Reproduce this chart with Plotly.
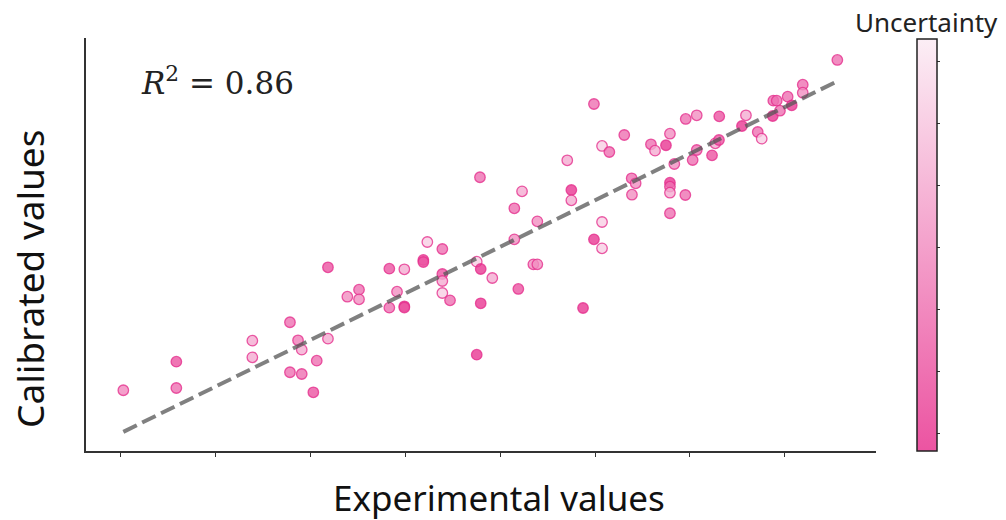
import plotly.graph_objects as go

experimental = [0.035, 0.593, 0.593, 1.393, 1.393, 1.789, 1.874, 1.913, 1.789, 1.913,
                2.035, 2.071, 2.189, 2.189, 2.393, 2.516, 2.516, 2.835, 2.835, 2.916,
                2.993, 2.993, 2.993, 3.193, 3.193, 3.235, 3.393, 3.393, 3.393, 3.393,
                3.474, 3.755, 3.797, 3.797, 3.755, 3.919, 3.789, 4.151, 4.232, 4.151,
                4.393, 4.351, 4.393, 4.193, 4.708, 4.751, 4.751, 4.874, 4.989, 4.989,
                5.074, 5.074, 5.074, 5.151, 5.308, 5.386, 5.428, 5.389, 5.589, 5.632,
                5.747, 5.789, 5.789, 5.789, 5.789, 5.789, 5.835, 5.951, 5.955, 6.028,
                6.071, 6.071, 6.232, 6.266, 6.305, 6.308, 6.547, 6.589, 6.713, 6.755,
                6.871, 6.877, 6.913, 6.947, 7.028, 7.071, 7.187, 7.187, 7.551]
calibrated = [0.926, 1.539, 0.975, 1.989, 1.633, 2.384, 1.998, 1.796, 1.312, 1.275,
              0.883, 1.560, 3.563, 2.032, 2.932, 3.083, 2.877, 3.533, 2.697, 3.040,
              3.520, 2.727, 2.701, 3.719, 3.676, 4.105, 3.955, 3.419, 3.269, 3.012,
              2.855, 3.683, 3.526, 2.791, 1.689, 3.333, 5.493, 4.828, 5.192, 4.163,
              4.549, 3.627, 3.627, 3.098, 5.857, 5.220, 4.999, 2.690, 7.064, 4.163,
              6.164, 4.534, 3.970, 6.035, 6.399, 5.471, 5.364, 5.119, 6.200, 6.063,
              6.179, 6.427, 5.377, 5.291, 5.162, 4.721, 5.778, 5.113, 6.743, 5.863,
              6.822, 6.078, 5.964, 6.221, 6.292, 6.800, 6.592, 6.822, 6.464, 6.320,
              6.807, 7.135, 7.135, 6.920, 7.221, 7.036, 7.478, 7.306, 8.008]
uncertainty = [0.20, 0.11, 0.16, 0.26, 0.26, 0.16, 0.18, 0.26, 0.16, 0.16,
               0.11, 0.16, 0.11, 0.26, 0.21, 0.16, 0.21, 0.11, 0.16, 0.21,
               0.26, 0.06, 0.11, 0.11, 0.11, 0.32, 0.16, 0.11, 0.26, 0.32,
               0.16, 0.32, 0.06, 0.06, 0.06, 0.26, 0.16, 0.16, 0.26, 0.21,
               0.21, 0.21, 0.21, 0.11, 0.26, 0.06, 0.26, 0.06, 0.16, 0.06,
               0.32, 0.32, 0.32, 0.16, 0.16, 0.16, 0.21, 0.21, 0.16, 0.26,
               0.06, 0.21, 0.06, 0.16, 0.26, 0.16, 0.21, 0.16, 0.16, 0.16,
               0.21, 0.16, 0.11, 0.26, 0.11, 0.11, 0.06, 0.26, 0.16, 0.32,
               0.06, 0.16, 0.16, 0.16, 0.16, 0.06, 0.16, 0.21, 0.16]
r2_text = "<i>R</i><sup>2</sup> = 0.86"
colorbar_ticks = [0.05, 0.10, 0.15, 0.20, 0.25, 0.30, 0.35]
x_ticks = [0, 1, 2, 3, 4, 5, 6, 7]

cmin, cmax = 0.0355, 0.3684
pink_scale = [[0.0, "rgba(231,41,138,0.80)"], [1.0, "rgba(251,234,243,0.80)"]]

fig = go.Figure()
fig.add_trace(go.Scatter(
    x=experimental, y=calibrated, mode="markers",
    marker=dict(size=10.5, color=uncertainty, colorscale=pink_scale, cmin=cmin, cmax=cmax,
                line=dict(color="rgba(228,45,140,0.78)", width=1.3),
                colorbar=dict(
                    thickness=20, thicknessmode="pixels",
                    len=412, lenmode="pixels", y=0, yanchor="bottom", ypad=0,
                    x=1.0515, xanchor="left", xpad=0,
                    outlinecolor="#222", outlinewidth=1.5,
                    tickvals=colorbar_ticks, ticks="outside", ticklen=3,
                    tickcolor="#333", showticklabels=False)),
    showlegend=False, hoverinfo="x+y"))

lo, hi = min(experimental), max(experimental)
fig.add_trace(go.Scatter(
    x=[lo, hi], y=[lo, hi], mode="lines",
    line=dict(color="rgba(85,85,85,0.75)", width=4, dash="15px,6px"),
    showlegend=False, hoverinfo="skip"))

fig.update_layout(
    width=1006, height=520,
    margin=dict(l=86, r=130, t=38, b=69, autoexpand=False),
    paper_bgcolor="white", plot_bgcolor="white",
    xaxis=dict(range=[-0.358, 7.958], showgrid=False, zeroline=False,
               showline=True, linecolor="#333", linewidth=2,
               tickvals=x_ticks, ticks="outside", ticklen=4, tickwidth=1,
               tickcolor="#333", showticklabels=False),
    yaxis=dict(range=[-0.376, 8.479], showgrid=False, zeroline=False,
               showline=True, linecolor="#333", linewidth=2,
               ticks="", showticklabels=False),
    annotations=[
        dict(text="Experimental values", xref="paper", yref="paper",
             x=(499 - 86) / 790, y=-(497 - 451) / 413, showarrow=False,
             xanchor="center", yanchor="middle",
             font=dict(family="Noto Sans", size=35, color="#111")),
        dict(text="Calibrated values", xref="paper", yref="paper",
             x=-(86 - 29) / 790, y=(451 - 279) / 413, showarrow=False,
             xanchor="center", yanchor="middle", textangle=-90,
             font=dict(family="Noto Sans", size=37, color="#111")),
        dict(text=r2_text, xref="paper", yref="paper",
             x=(139 - 86) / 790, y=(451 - 81) / 413, showarrow=False,
             xanchor="left", yanchor="middle",
             font=dict(family="DejaVu Serif", size=31, color="#222")),
        dict(text="Uncertainty", xref="paper", yref="paper",
             x=(927 - 86) / 790, y=(451 - 22) / 413, showarrow=False,
             xanchor="center", yanchor="middle",
             font=dict(family="Noto Sans", size=26, color="#222")),
    ],
)

fig.write_html("out.html", post_script="document.body.style.margin='0';",
               config={"displayModeBar": False})
